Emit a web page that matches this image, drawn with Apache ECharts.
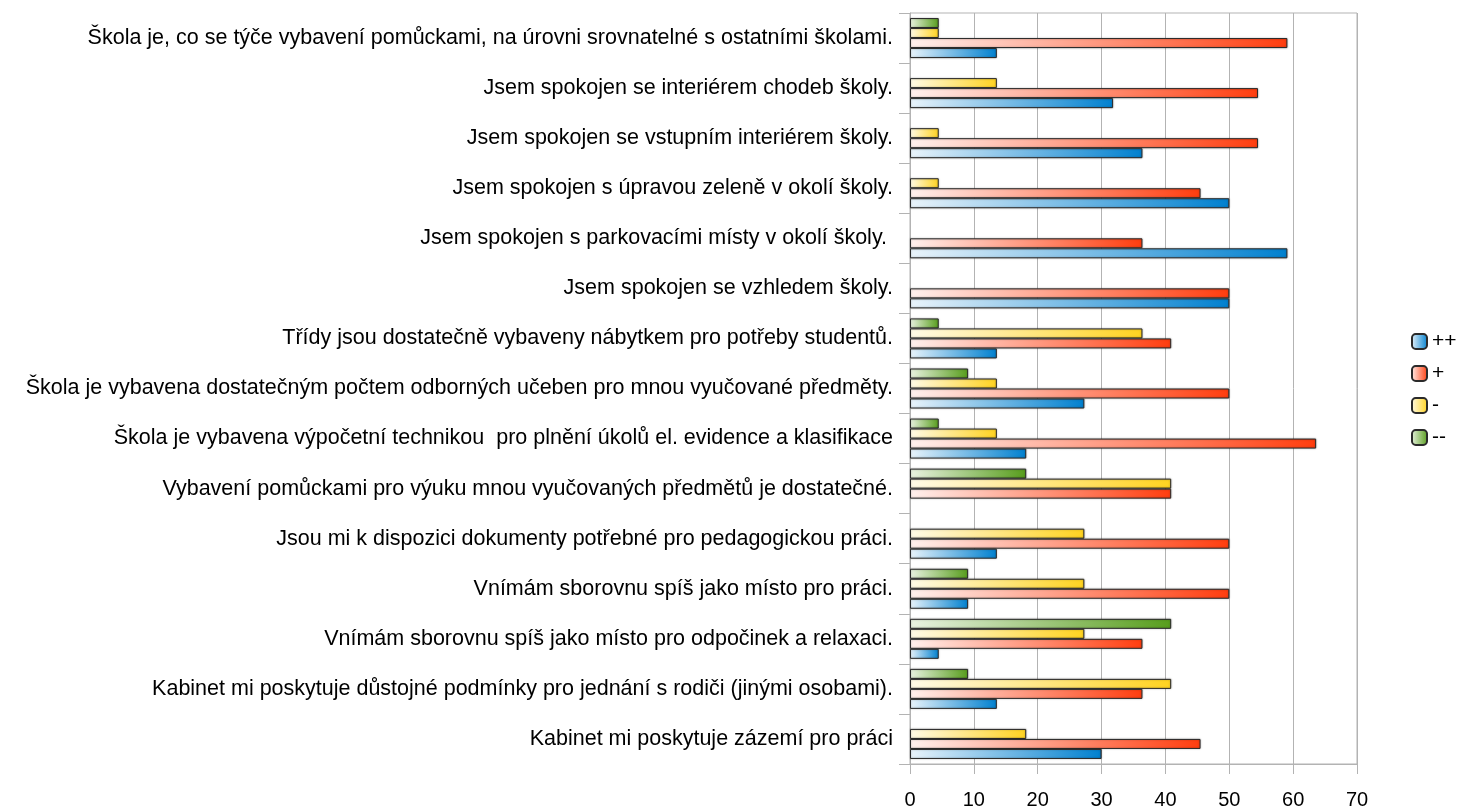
<!DOCTYPE html>
<html>
<head>
<meta charset="utf-8">
<script src="https://cdn.jsdelivr.net/npm/echarts@6/dist/echarts.min.js"></script>
<style>
  html, body { margin: 0; padding: 0; background: #fff; }
  #chart { width: 1460px; height: 810px; }
</style>
</head>
<body>
<div id="chart"></div>
<script>
// categories, top to bottom as in the picture
const categories = [
  'Škola je, co se týče vybavení pomůckami, na úrovni srovnatelné s ostatními školami.',
  'Jsem spokojen se interiérem chodeb školy.',
  'Jsem spokojen se vstupním interiérem školy.',
  'Jsem spokojen s úpravou zeleně v okolí školy.',
  'Jsem spokojen s parkovacími místy v okolí školy. ',
  'Jsem spokojen se vzhledem školy.',
  'Třídy jsou dostatečně vybaveny nábytkem pro potřeby studentů.',
  'Škola je vybavena dostatečným počtem odborných učeben pro mnou vyučované předměty.',
  'Škola je vybavena výpočetní technikou  pro plnění úkolů el. evidence a klasifikace',
  'Vybavení pomůckami pro výuku mnou vyučovaných předmětů je dostatečné.',
  'Jsou mi k dispozici dokumenty potřebné pro pedagogickou práci.',
  'Vnímám sborovnu spíš jako místo pro práci.',
  'Vnímám sborovnu spíš jako místo pro odpočinek a relaxaci.',
  'Kabinet mi poskytuje důstojné podmínky pro jednání s rodiči (jinými osobami).',
  'Kabinet mi poskytuje zázemí pro práci'
];

const plusPlus   = [13.6, 31.8, 36.4, 50, 59.1, 50, 13.6, 27.3, 18.2, 0, 13.6, 9.1, 4.5, 13.6, 30];
const plus       = [59.1, 54.5, 54.5, 45.5, 36.4, 50, 40.9, 50, 63.6, 40.9, 50, 50, 36.4, 36.4, 45.5];
const minus      = [4.5, 13.6, 4.5, 4.5, 0, 0, 36.4, 13.6, 13.6, 40.9, 27.3, 27.3, 27.3, 40.9, 18.2];
const minusMinus = [4.5, 0, 0, 0, 0, 0, 4.5, 9.1, 4.5, 18.2, 0, 9.1, 40.9, 9.1, 0];

const xTicks = { min: 0, max: 70, interval: 10 };

function grad(c0, c1) {
  return new echarts.graphic.LinearGradient(0, 0, 1, 0, [
    { offset: 0, color: c0 },
    { offset: 1, color: c1 }
  ]);
}

function barSeries(name, data, c0, c1) {
  return {
    name: name,
    type: 'bar',
    // zero answers draw no bar at all
    data: data.map(v => (v === 0 ? null : v)),
    barWidth: 10,
    barGap: '0%',
    itemStyle: {
      color: grad(c0, c1),
      borderColor: '#2a2a2a',
      borderWidth: 1,
      shadowColor: 'rgba(0,0,0,0.3)',
      shadowBlur: 2
    },
    emphasis: { disabled: true }
  };
}

const chart = echarts.init(document.getElementById('chart'));
chart.setOption({
  animation: false,
  textStyle: { fontFamily: 'Liberation Sans' },
  grid: {
    left: 910, right: 103, top: 13, bottom: 42,
    show: true, borderColor: '#b3b3b3', borderWidth: 1
  },
  legend: {
    orient: 'vertical',
    left: 1406,
    top: 326,
    itemWidth: 15,
    itemHeight: 15,
    itemGap: 11,
    data: ['++', '+', '-', '--'],
    textStyle: { fontSize: 21, color: '#000', fontFamily: 'Liberation Sans' }
  },
  xAxis: {
    type: 'value',
    min: xTicks.min,
    max: xTicks.max,
    interval: xTicks.interval,
    axisLine: { show: true, lineStyle: { color: '#b3b3b3' } },
    axisTick: { show: true, length: 10, lineStyle: { color: '#b3b3b3' } },
    axisLabel: { fontSize: 20, color: '#000', margin: 26 },
    splitLine: { show: true, lineStyle: { color: '#b3b3b3' } }
  },
  yAxis: {
    type: 'category',
    inverse: true,
    data: categories,
    axisLine: { show: true, lineStyle: { color: '#b3b3b3' } },
    axisTick: { show: true, length: 11, lineStyle: { color: '#b3b3b3' } },
    axisLabel: { fontSize: 21.5, color: '#000', margin: 17 },
    splitLine: { show: false }
  },
  series: [
    barSeries('--', minusMinus, '#eaf3e2', '#579d1c'),
    barSeries('-', minus, '#fffbe8', '#ffd320'),
    barSeries('+', plus, '#fff1ee', '#ff3d0e'),
    barSeries('++', plusPlus, '#eaf4fb', '#0080cf')
  ]
});
</script>
</body>
</html>
